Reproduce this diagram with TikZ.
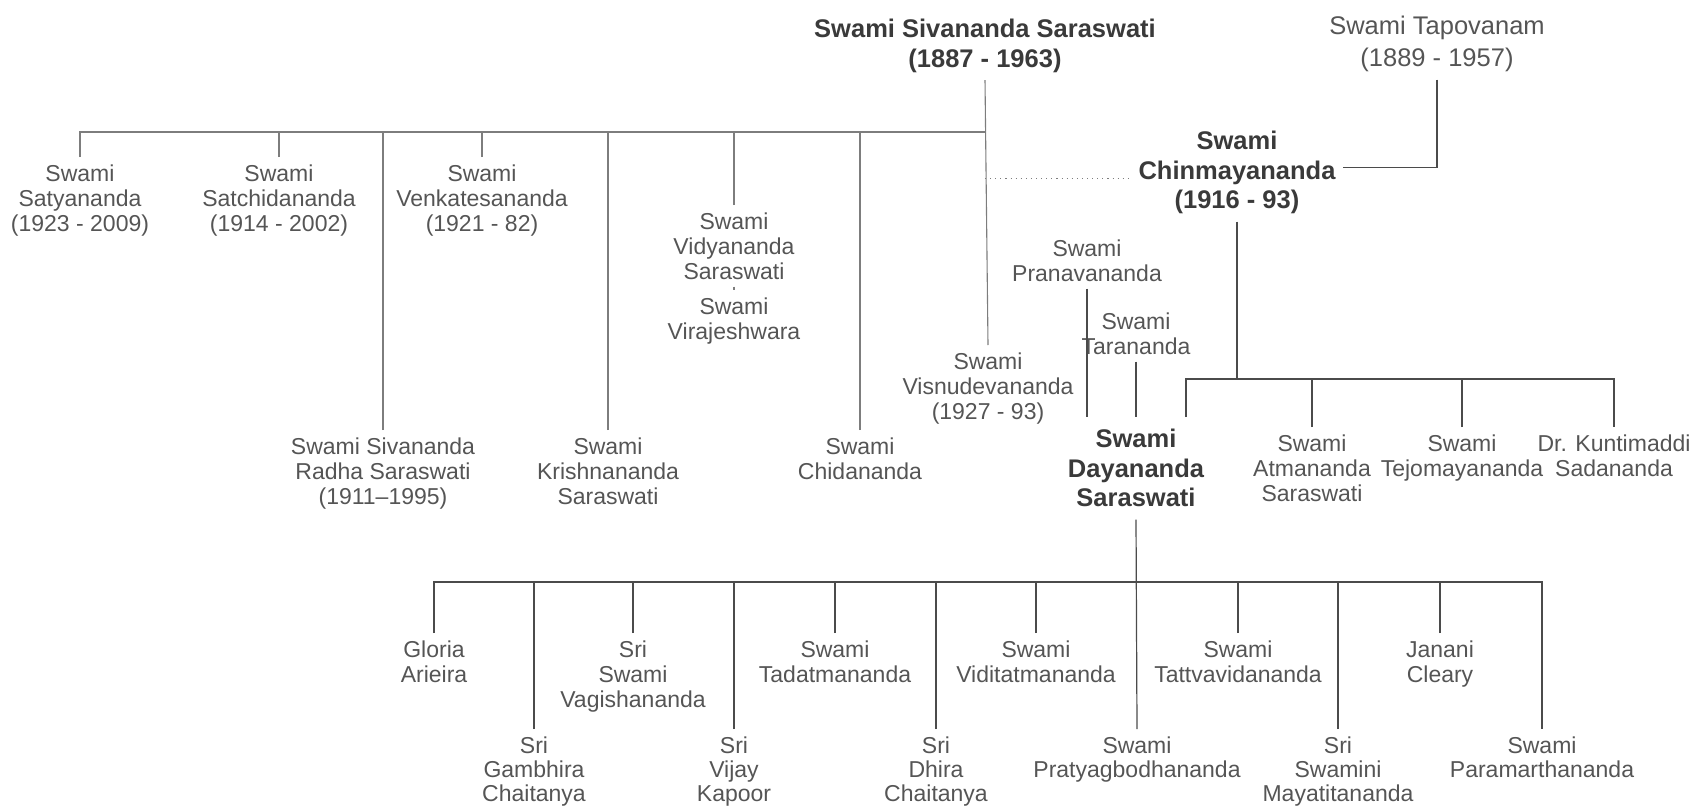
\documentclass[tikz,border=0pt]{standalone}
\usepackage{fontspec}
\setmainfont{Liberation Sans}
\definecolor{txt}{RGB}{85,85,85}
\definecolor{txtb}{RGB}{58,58,58}
\definecolor{lnl}{RGB}{125,125,125}
\definecolor{lnd}{RGB}{75,75,75}
\begin{document}
\begin{tikzpicture}[x=0.5pt,y=-0.5pt,
  nm/.style={anchor=north,align=center,inner sep=3.5pt,text=txt,font=\fontsize{11.5}{12.5}\selectfont},
  lo/.style={nm,font=\fontsize{11.5}{12.1}\selectfont},
  hd/.style={nm,text=txtb,font=\fontsize{12.75}{14.75}\selectfont\bfseries},
  tp/.style={nm,font=\fontsize{12.75}{16}\selectfont},
  ll/.style={draw=lnl,line width=0.55pt},
  dl/.style={draw=lnd,line width=0.6pt}]
\useasboundingbox (0,0) rectangle (1696,808);

% top level
\node[hd] (siv) at (985,12) {Swami Sivananda Saraswati\\(1887 - 1963)};
\node[tp] (tap) at (1437,9) {Swami Tapovanam\\(1889 - 1957)};
\node[hd] (chin) at (1237,124) {Swami\\Chinmayananda\\(1916 - 93)};

% disciples of Sivananda
\node[nm] (sat) at (80,157) {Swami\\Satyananda\\(1923 - 2009)};
\node[nm] (satch) at (279,157) {Swami\\Satchidananda\\(1914 - 2002)};
\node[nm] (venk) at (482,157) {Swami\\Venkatesananda\\(1921 - 82)};
\node[nm] (radha) at (383,430) {Swami Sivananda\\Radha Saraswati\\(1911–1995)};
\node[nm] (krish) at (608,430) {Swami\\Krishnananda\\Saraswati};
\node[nm] (vidya) at (734,205) {Swami\\Vidyananda\\Saraswati};
\node[nm] (viraj) at (734,290) {Swami\\Virajeshwara};
\node[nm] (chid) at (860,430) {Swami\\Chidananda};
\node[nm] (visnu) at (988,345) {Swami\\Visnudevananda\\(1927 - 93)};

% Chinmayananda branch
\node[nm] (pran) at (1087,232) {Swami\\Pranavananda};
\node[nm] (tara) at (1136,305) {Swami\\Tarananda};
\node[hd,inner ysep=6pt] (daya) at (1136,417) {Swami\\Dayananda\\Saraswati};
\node[nm] (atm) at (1312,427) {Swami\\Atmananda\\Saraswati};
\node[nm] (tej) at (1462,427) {Swami\\Tejomayananda};
\node[nm] (kunt) at (1614,427) {Dr. Kuntimaddi\\Sadananda};

% Dayananda disciples
\node[nm] (glo) at (434,633) {Gloria\\Arieira};
\node[lo] (gam) at (534,729) {Sri\\Gambhira\\Chaitanya};
\node[nm] (vag) at (633,633) {Sri\\Swami\\Vagishananda};
\node[lo] (vij) at (734,729) {Sri\\Vijay\\Kapoor};
\node[nm] (tad) at (835,633) {Swami\\Tadatmananda};
\node[lo] (dhi) at (936,729) {Sri\\Dhira\\Chaitanya};
\node[nm] (vid) at (1036,633) {Swami\\Viditatmananda};
\node[lo] (prat) at (1137,729) {Swami\\Pratyagbodhananda};
\node[nm] (tat) at (1238,633) {Swami\\Tattvavidananda};
\node[lo] (may) at (1338,729) {Sri\\Swamini\\Mayatitananda};
\node[nm] (jan) at (1440,633) {Janani\\Cleary};
\node[lo] (par) at (1542,729) {Swami\\Paramarthananda};

% Sivananda tree
\coordinate (sbus) at (985,132);
\draw[ll] (siv.south) -- (visnu.north);
\draw[ll] (sat.north) |- (sbus);
\foreach \n in {satch,venk,radha,krish,vidya,chid}
  \draw[ll] (\n.north) -- (\n.north |- sbus);
\draw[ll] (vidya.south) -- (viraj.north);
\draw[ll,dotted] ([yshift=-2.75pt]siv.south |- chin.west) -- ([yshift=-2.75pt]chin.west);

% Tapovanam to Chinmayananda
\draw[dl] (tap.south) |- ([yshift=2.75pt]chin.east);

% Chinmayananda tree
\coordinate (cbus) at (1237,379);
\coordinate (cbL) at (1186,379);
\draw[dl] (chin.south) -- (cbus);
\draw[dl] (cbL |- daya.north) -- (cbL) -| (kunt.north);
\draw[dl] (atm.north) -- (atm.north |- cbus);
\draw[dl] (tej.north) -- (tej.north |- cbus);
\draw[dl] (pran.south) -- (pran.south |- daya.north);
\draw[dl] (tara.south) -- (daya.north);

% Dayananda tree
\coordinate (dbus) at (1136,582);
\draw[dl] (daya.south) -- (prat.north);
\draw[dl] (glo.north) |- (dbus) -| (par.north);
\foreach \n in {gam,vag,vij,tad,dhi,vid,tat,may,jan}
  \draw[dl] (\n.north) -- (\n.north |- dbus);
\end{tikzpicture}
\end{document}
